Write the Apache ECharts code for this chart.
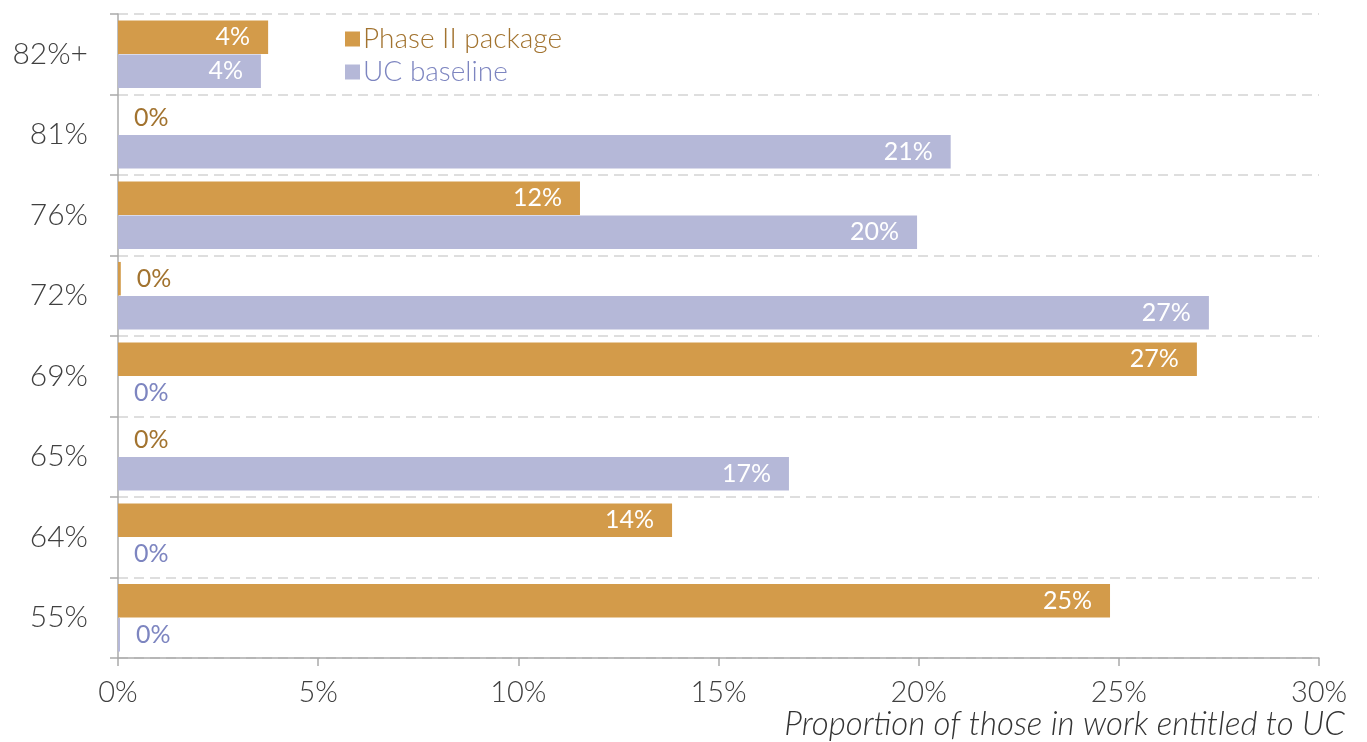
<!DOCTYPE html>
<html>
<head>
<meta charset="utf-8">
<script src="https://cdn.jsdelivr.net/npm/echarts@6/dist/echarts.min.js"></script>
<style>
  html, body { margin: 0; padding: 0; background: #fff; }
  #chart { width: 1367px; height: 742px; }
</style>
</head>
<body>
<div id="chart"></div>
<script>
// categories top to bottom
const categories = ['82%+', '81%', '76%', '72%', '69%', '65%', '64%', '55%'];
// values, percent of those in work entitled to UC
const phaseValues = [3.75, 0, 11.54, 0.07, 26.95, 0, 13.84, 24.78];
const baselineValues = [3.57, 20.8, 19.96, 27.25, 0, 16.76, 0, 0.05];
const xTicks = [0, 5, 10, 15, 20, 25, 30];

const phaseColor = '#d39b4a';
const phaseText = '#a2732f';
const ucColor = '#b5b8d8';
const ucText = '#7d85c0';
const font = 'Lato, sans-serif';

// small values get their label outside the bar, in the series colour
function toData(values, textColor) {
  return values.map(v => {
    if (v < 2) {
      return { value: v, label: { position: 'right', distance: 16, color: textColor } };
    }
    return v;
  });
}

const mychart = echarts.init(document.getElementById('chart'));

mychart.setOption({
  animation: false,
  textStyle: { fontFamily: font },
  grid: { left: 118, right: 48, top: 14, bottom: 84, containLabel: false },
  title: {
    text: 'Proportion of those in work entitled to UC',
    right: 17,
    bottom: -4,
    textStyle: {
      fontFamily: font,
      fontStyle: 'italic',
      fontWeight: 300,
      fontSize: 33,
      color: '#333'
    }
  },
  legend: {
    left: 340,
    top: 20,
    orient: 'vertical',
    itemWidth: 15,
    itemHeight: 15,
    itemGap: 5,
    icon: 'rect',
    textStyle: { fontFamily: font, fontSize: 28, fontWeight: 300, padding: [0, 0, 0, -2] },
    data: [
      { name: 'Phase II package', textStyle: { color: phaseText } },
      { name: 'UC baseline', textStyle: { color: ucText } }
    ]
  },
  xAxis: {
    type: 'value',
    min: 0,
    max: 30,
    interval: 5,
    axisLine: { show: true, lineStyle: { color: '#aaa', width: 1.5 } },
    axisTick: { show: true, length: 8, lineStyle: { color: '#aaa', width: 1.5 } },
    splitLine: { show: false },
    axisLabel: {
      margin: 20,
      fontSize: 29,
      fontWeight: 300,
      color: '#404040',
      formatter: v => (xTicks.includes(v) ? v + '%' : '')
    }
  },
  yAxis: {
    type: 'category',
    inverse: true,
    data: categories,
    axisLine: { show: true, lineStyle: { color: '#aaa', width: 1.5 } },
    axisTick: { show: true, length: 8, lineStyle: { color: '#aaa', width: 1.5 } },
    splitLine: { show: true, lineStyle: { color: '#d4d4d4', type: [10, 6], width: 1.5 } },
    axisLabel: {
      margin: 30,
      fontSize: 30,
      fontWeight: 300,
      color: '#404040'
    }
  },
  series: [
    {
      name: 'Phase II package',
      type: 'bar',
      barGap: '2%',
      barCategoryGap: '16%',
      itemStyle: { color: phaseColor },
      label: {
        show: true,
        position: 'insideRight',
        distance: 18,
        color: '#fff',
        fontSize: 25,
        fontFamily: font,
        formatter: p => Math.round(p.value) + '%'
      },
      data: toData(phaseValues, phaseText)
    },
    {
      name: 'UC baseline',
      type: 'bar',
      itemStyle: { color: ucColor },
      label: {
        show: true,
        position: 'insideRight',
        distance: 18,
        color: '#fff',
        fontSize: 25,
        fontFamily: font,
        formatter: p => Math.round(p.value) + '%'
      },
      data: toData(baselineValues, ucText)
    }
  ]
});

window.addEventListener('resize', () => {
  mychart.resize();
});
</script>
</body>
</html>
